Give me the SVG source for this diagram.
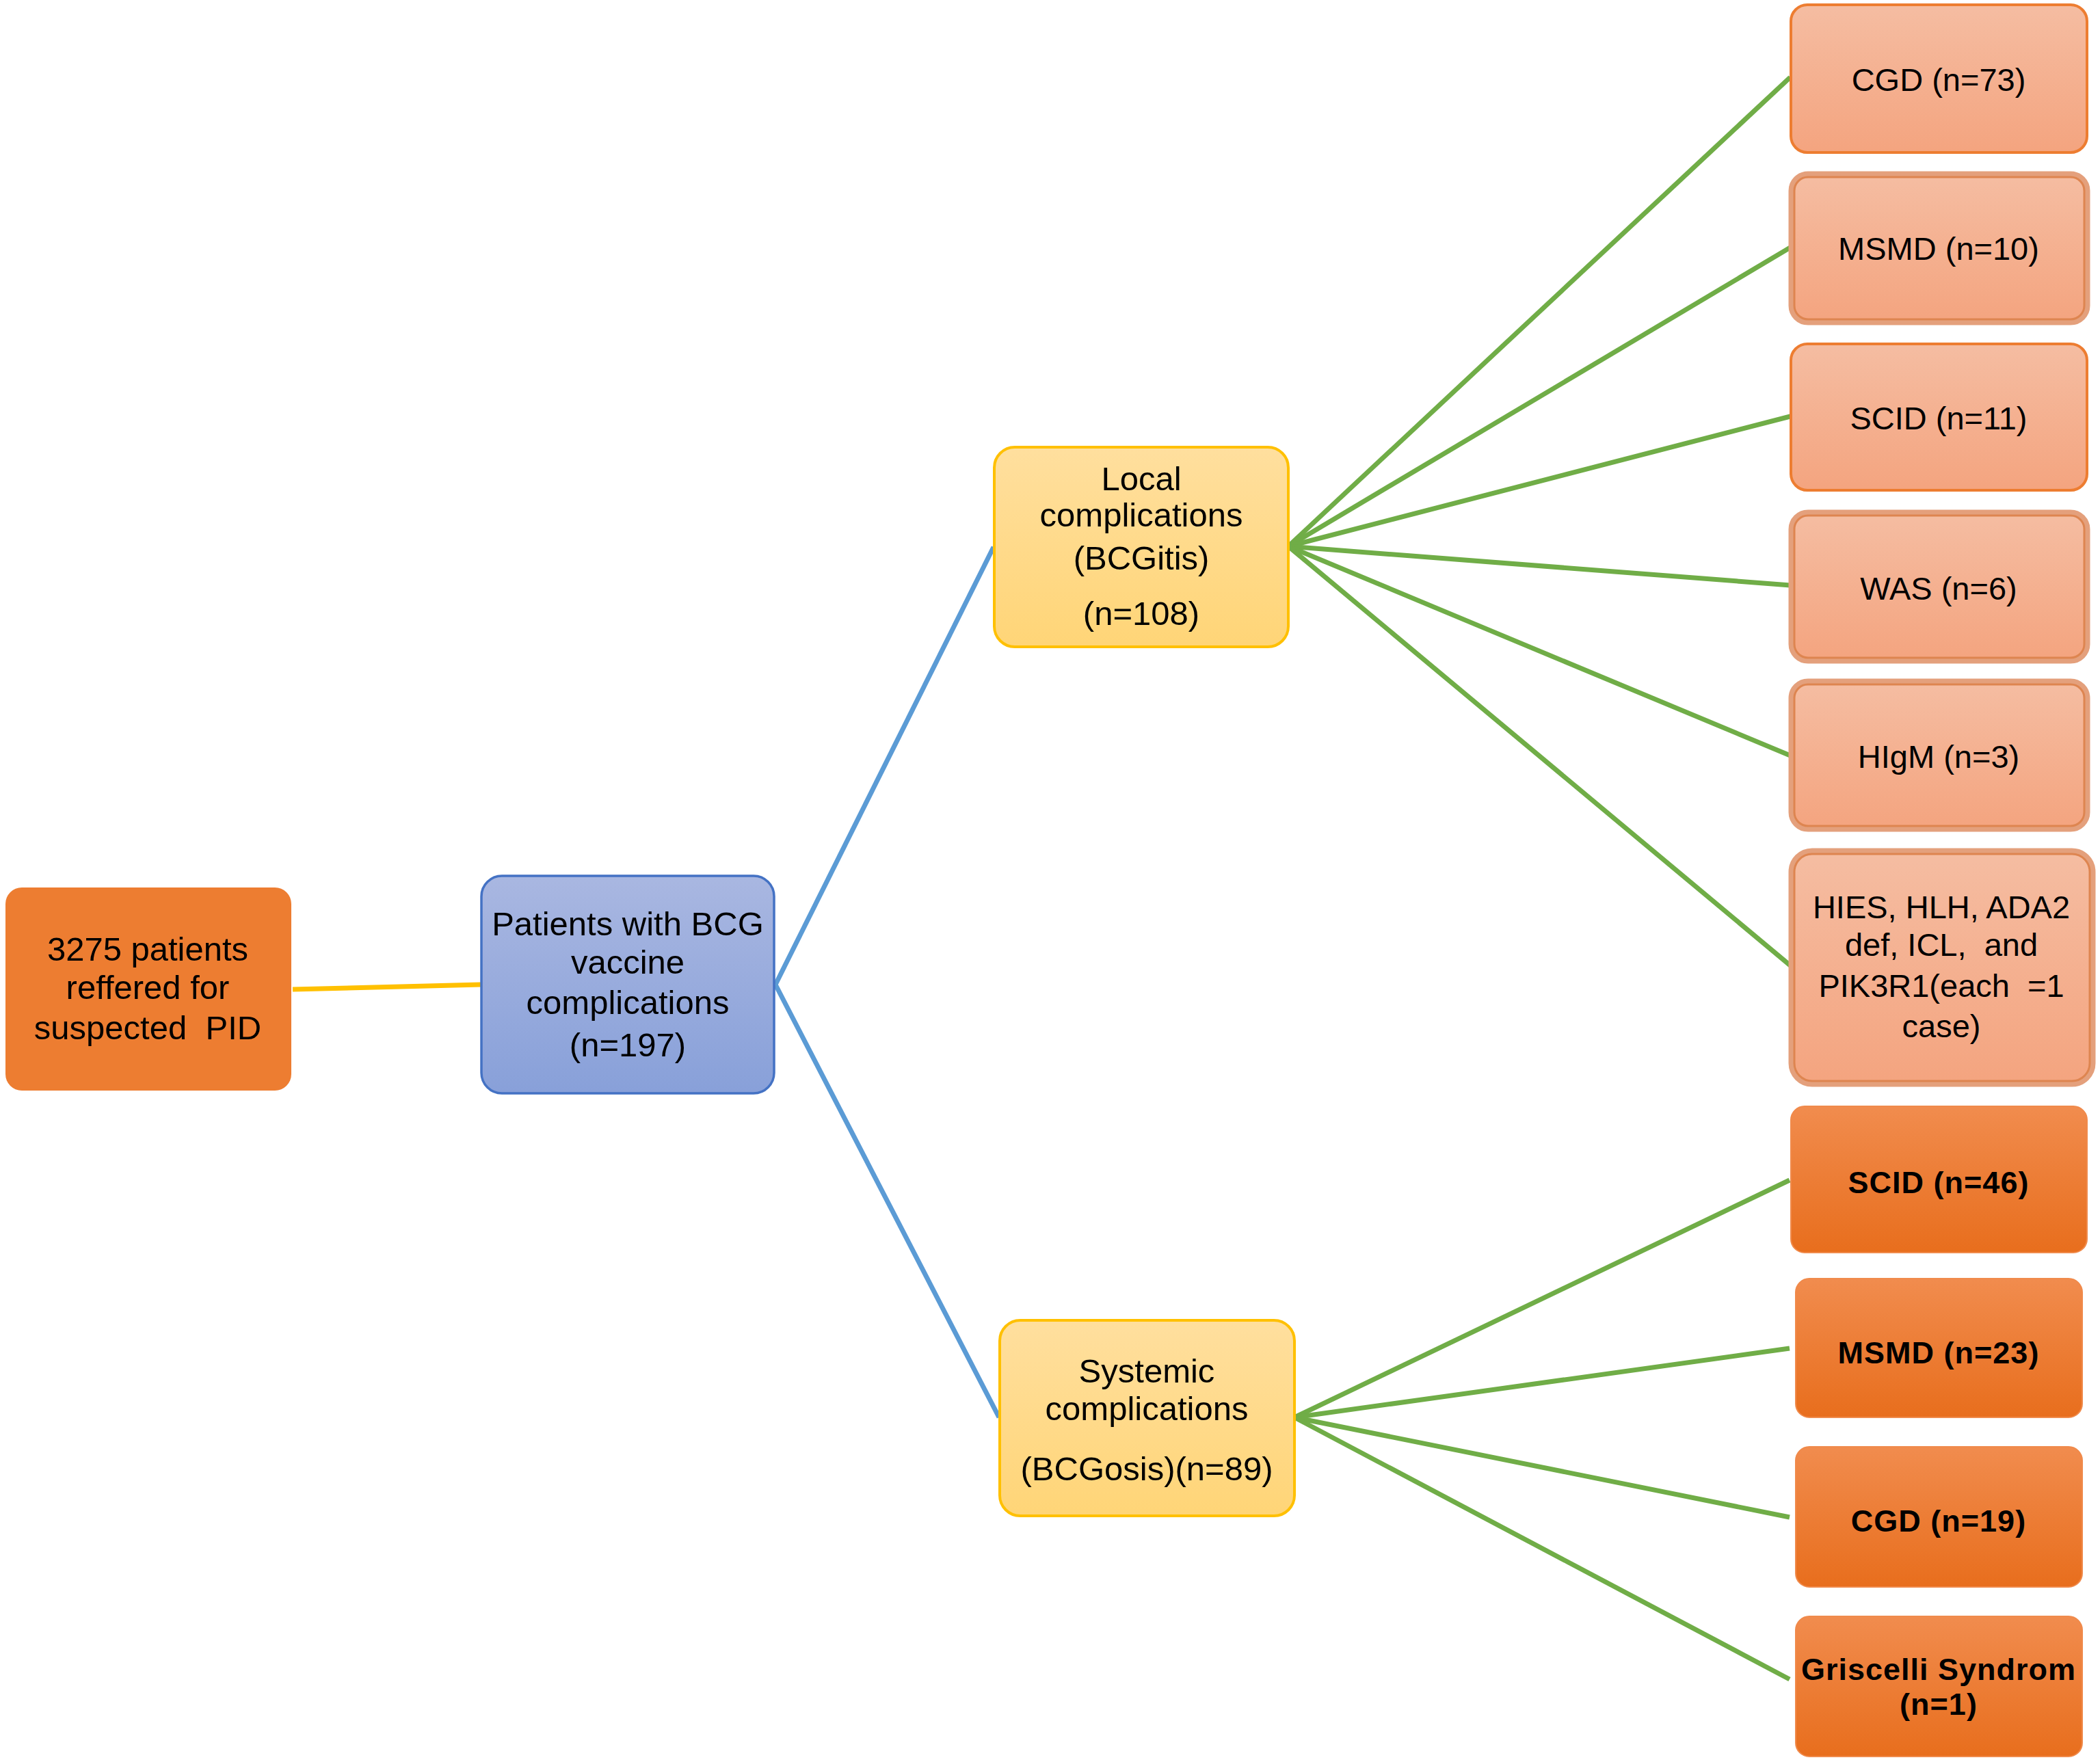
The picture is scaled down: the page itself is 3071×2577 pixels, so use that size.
<svg xmlns="http://www.w3.org/2000/svg" width="3071" height="2577" viewBox="0 0 3071 2577">
<defs>
<linearGradient id="gBlue" x1="0" y1="0" x2="0" y2="1"><stop offset="0" stop-color="#A9B7E1"/><stop offset="1" stop-color="#88A0D9"/></linearGradient>
<linearGradient id="gYel" x1="0" y1="0" x2="0" y2="1"><stop offset="0" stop-color="#FFDF9E"/><stop offset="1" stop-color="#FFD577"/></linearGradient>
<linearGradient id="gPeach" x1="0" y1="0" x2="0" y2="1"><stop offset="0" stop-color="#F5BDA2"/><stop offset="1" stop-color="#F4A47F"/></linearGradient>
<linearGradient id="gOr" x1="0" y1="0" x2="0" y2="1"><stop offset="0" stop-color="#F18C4E"/><stop offset="1" stop-color="#E86E1D"/></linearGradient>
<style>
text{font-family:"Liberation Sans",Arial,sans-serif;fill:#000;text-anchor:middle;white-space:pre}
.t48{font-size:49px}
.t46{font-size:47px}
.tb{font-size:45px;font-weight:bold;letter-spacing:1px}
.root{fill:#ED7D31}
.blue{fill:url(#gBlue);stroke:#4472C4;stroke-width:3.5}
.yel{fill:url(#gYel);stroke:#FFC000;stroke-width:4}
.peach{fill:url(#gPeach);stroke:#ED7D31;stroke-width:4}
.peach2{fill:url(#gPeach);stroke:#E4A07C;stroke-width:9}
.inner{fill:none;stroke:#DE8550;stroke-width:3}
.orange{fill:url(#gOr);stroke:#F08A4B;stroke-width:2}
.cy{stroke:#FFC000;stroke-width:7;fill:none}
.cb{stroke:#5B9BD5;stroke-width:7;fill:none}
.cg{stroke:#70AD47;stroke-width:7;fill:none}
</style>
</defs>
<rect width="3071" height="2577" fill="#FFFFFF"/>
<g id="connectors">
<line class="cy" x1="428" y1="1447" x2="703" y2="1440"/>
<line class="cb" x1="1134" y1="1440" x2="1453" y2="800"/>
<line class="cb" x1="1134" y1="1440" x2="1461" y2="2073"/>
<line class="cg" x1="1884" y1="799" x2="2618" y2="113"/>
<line class="cg" x1="1884" y1="799" x2="2618" y2="362"/>
<line class="cg" x1="1884" y1="799" x2="2618" y2="609"/>
<line class="cg" x1="1884" y1="799" x2="2618" y2="856"/>
<line class="cg" x1="1884" y1="799" x2="2618" y2="1105"/>
<line class="cg" x1="1884" y1="799" x2="2618" y2="1412"/>
<line class="cg" x1="1893" y1="2073" x2="2617" y2="1726"/>
<line class="cg" x1="1893" y1="2073" x2="2617" y2="1972"/>
<line class="cg" x1="1893" y1="2073" x2="2617" y2="2219"/>
<line class="cg" x1="1893" y1="2073" x2="2617" y2="2456"/>
</g>
<g id="root">
<rect class="root" x="8" y="1298" width="418" height="297" rx="24"/>
<text class="t48" x="216" y="1405">3275 patients</text>
<text class="t48" x="216" y="1461">reffered for</text>
<text class="t48" x="216" y="1520">suspected  PID</text>
</g>
<g id="patients">
<rect class="blue" x="704" y="1281" width="428" height="318" rx="30"/>
<text class="t48" x="918" y="1368">Patients with BCG</text>
<text class="t48" x="918" y="1424">vaccine</text>
<text class="t48" x="918" y="1483">complications</text>
<text class="t48" x="918" y="1545">(n=197)</text>
</g>
<g id="local">
<rect class="yel" x="1454" y="654" width="430" height="292" rx="30"/>
<text class="t48" x="1669" y="717">Local</text>
<text class="t48" x="1669" y="770">complications</text>
<text class="t48" x="1669" y="833">(BCGitis)</text>
<text class="t48" x="1669" y="914">(n=108)</text>
</g>
<g id="systemic">
<rect class="yel" x="1462" y="1931" width="431" height="286" rx="30"/>
<text class="t48" x="1677" y="2022">Systemic</text>
<text class="t48" x="1677" y="2077">complications</text>
<text class="t48" x="1677" y="2165">(BCGosis)(n=89)</text>
</g>
<g id="cgd73">
<rect class="peach" x="2619" y="7" width="433" height="216" rx="24"/>
<text class="t46" x="2835" y="133">CGD (n=73)</text>
</g>
<g id="msmd10">
<rect class="peach2" x="2620" y="255" width="432" height="216" rx="24"/>
<rect class="inner" x="2624" y="259" width="424" height="208" rx="20"/>
<text class="t46" x="2835" y="380">MSMD (n=10)</text>
</g>
<g id="scid11">
<rect class="peach" x="2619" y="503" width="433" height="214" rx="24"/>
<text class="t46" x="2835" y="628">SCID (n=11)</text>
</g>
<g id="was6">
<rect class="peach2" x="2620" y="750" width="432" height="216" rx="24"/>
<rect class="inner" x="2624" y="754" width="424" height="208" rx="20"/>
<text class="t46" x="2835" y="877">WAS (n=6)</text>
</g>
<g id="higm3">
<rect class="peach2" x="2620" y="997" width="432" height="215" rx="24"/>
<rect class="inner" x="2624" y="1001" width="424" height="207" rx="20"/>
<text class="t46" x="2835" y="1123">HIgM (n=3)</text>
</g>
<g id="hies">
<rect class="peach2" x="2620" y="1245" width="440" height="340" rx="30"/>
<rect class="inner" x="2624" y="1249" width="432" height="332" rx="26"/>
<text class="t46" x="2839" y="1343">HIES, HLH, ADA2</text>
<text class="t46" x="2839" y="1398">def, ICL,  and</text>
<text class="t46" x="2839" y="1458">PIK3R1(each  =1</text>
<text class="t46" x="2839" y="1517">case)</text>
</g>
<g id="scid46">
<rect class="orange" x="2619" y="1618" width="433" height="214" rx="20"/>
<text class="tb" x="2835" y="1745">SCID (n=46)</text>
</g>
<g id="msmd23">
<rect class="orange" x="2626" y="1870" width="419" height="203" rx="20"/>
<text class="tb" x="2835" y="1994">MSMD (n=23)</text>
</g>
<g id="cgd19">
<rect class="orange" x="2626" y="2116" width="419" height="205" rx="20"/>
<text class="tb" x="2835" y="2240">CGD (n=19)</text>
</g>
<g id="griscelli">
<rect class="orange" x="2626" y="2364" width="419" height="205" rx="20"/>
<text class="tb" x="2835" y="2457">Griscelli Syndrom</text>
<text class="tb" x="2835" y="2508">(n=1)</text>
</g>
</svg>
